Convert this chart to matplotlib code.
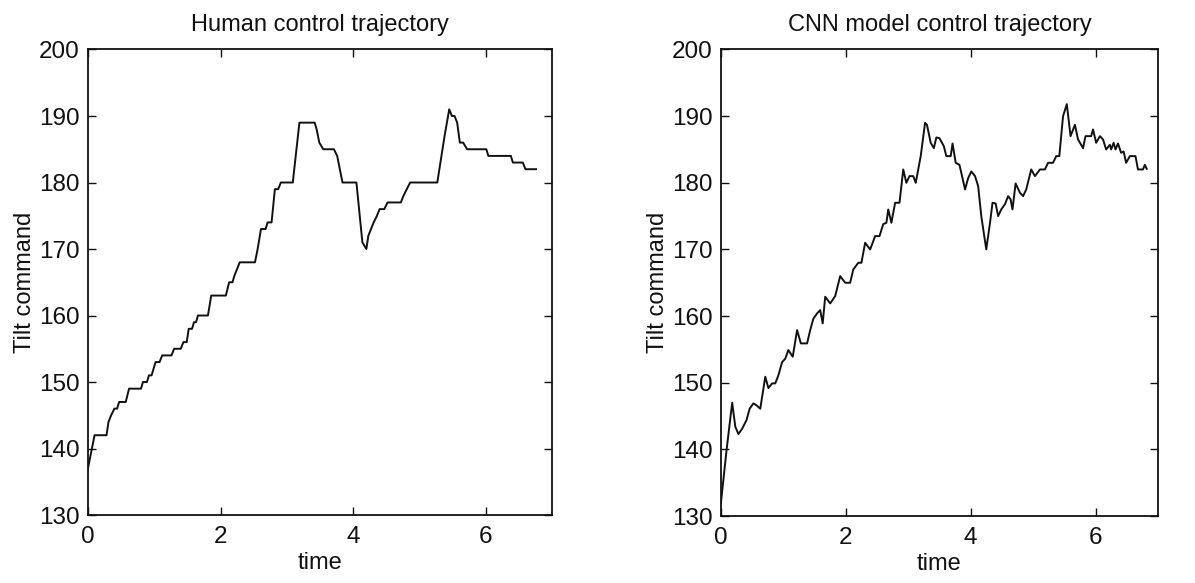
import matplotlib.pyplot as plt

plt.rcParams['font.family'] = ['Liberation Sans', 'DejaVu Sans']

# human control trajectory (time, tilt command)
human_t = [0.00, 0.10, 0.28, 0.31, 0.35, 0.40, 0.44, 0.47, 0.57, 0.62, 0.80, 0.83,
           0.89, 0.92, 0.96, 0.99, 1.02, 1.08, 1.12, 1.26, 1.30, 1.40, 1.44, 1.49,
           1.52, 1.57, 1.60, 1.63, 1.66, 1.81, 1.86, 2.08, 2.13, 2.18, 2.21, 2.25,
           2.29, 2.52, 2.56, 2.61, 2.68, 2.71, 2.77, 2.82, 2.87, 2.91, 3.09, 3.19,
           3.42, 3.45, 3.49, 3.55, 3.71, 3.76, 3.80, 3.84, 4.05, 4.10, 4.14, 4.20,
           4.23, 4.27, 4.31, 4.36, 4.40, 4.47, 4.52, 4.72, 4.76, 4.81, 4.86, 5.27,
           5.38, 5.45, 5.49, 5.53, 5.57, 5.61, 5.66, 5.72, 6.01, 6.04, 6.38, 6.41,
           6.56, 6.60, 6.76]
human_v = [137, 142, 142, 144, 145, 146, 146, 147, 147, 149, 149, 150,
           150, 151, 151, 152, 153, 153, 154, 154, 155, 155, 156, 156,
           158, 158, 159, 159, 160, 160, 163, 163, 165, 165, 166, 167,
           168, 168, 170, 173, 173, 174, 174, 179, 179, 180, 180, 189,
           189, 188, 186, 185, 185, 184, 182, 180, 180, 175, 171, 170,
           172, 173, 174, 175, 176, 176, 177, 177, 178, 179, 180, 180,
           187, 191, 190, 190, 189, 186, 186, 185, 185, 184, 184, 183,
           183, 182, 182]

# CNN model control trajectory
cnn_t = [0.00, 0.09, 0.18, 0.23, 0.28, 0.34, 0.41, 0.46, 0.52, 0.57, 0.63, 0.71,
         0.76, 0.82, 0.87, 0.92, 0.98, 1.03, 1.08, 1.15, 1.22, 1.28, 1.38, 1.43,
         1.48, 1.54, 1.59, 1.63, 1.67, 1.75, 1.83, 1.91, 1.99, 2.07, 2.12, 2.20,
         2.25, 2.31, 2.39, 2.47, 2.54, 2.60, 2.65, 2.68, 2.73, 2.79, 2.86, 2.92,
         2.97, 3.02, 3.08, 3.12, 3.20, 3.27, 3.30, 3.36, 3.41, 3.45, 3.50, 3.57,
         3.61, 3.68, 3.71, 3.76, 3.82, 3.85, 3.91, 3.96, 4.01, 4.07, 4.12, 4.17,
         4.25, 4.31, 4.35, 4.40, 4.44, 4.49, 4.55, 4.60, 4.64, 4.67, 4.72, 4.79,
         4.84, 4.89, 4.97, 5.03, 5.11, 5.19, 5.24, 5.32, 5.37, 5.42, 5.48, 5.54,
         5.60, 5.67, 5.72, 5.80, 5.84, 5.93, 5.96, 6.01, 6.07, 6.12, 6.17, 6.23,
         6.25, 6.29, 6.32, 6.36, 6.41, 6.45, 6.49, 6.55, 6.64, 6.68, 6.76, 6.79,
         6.82]
cnn_v = [132.0, 139.9, 147.0, 143.4, 142.3, 143.1, 144.4, 146.1, 146.9, 146.6, 146.1, 150.9,
         149.2, 149.9, 149.9, 151.1, 153.1, 153.6, 154.9, 153.9, 157.9, 155.9, 155.9, 157.9,
         159.6, 160.4, 160.9, 158.9, 162.9, 161.9, 163.0, 166.0, 165.0, 165.0, 167.0, 168.0,
         168.0, 171.0, 170.0, 172.0, 172.0, 173.8, 174.0, 176.0, 174.0, 177.0, 177.0, 182.0,
         180.0, 181.0, 181.0, 180.0, 184.0, 189.0, 188.7, 186.0, 185.2, 186.8, 186.7, 185.5,
         184.0, 184.0, 185.9, 183.0, 182.7, 181.5, 179.0, 180.7, 181.7, 181.0, 179.5, 175.0,
         170.0, 174.0, 177.0, 176.9, 175.0, 176.0, 176.8, 178.0, 177.5, 176.0, 179.9, 178.5,
         178.0, 179.0, 182.0, 181.0, 182.0, 182.0, 183.0, 183.0, 184.0, 184.0, 190.0, 191.8,
         187.0, 188.7, 186.5, 185.2, 187.0, 187.0, 188.0, 186.0, 187.0, 186.5, 185.0, 185.7,
         185.0, 186.0, 185.0, 185.9, 184.5, 184.7, 183.0, 184.0, 184.0, 182.0, 182.0, 182.7,
         182.1]

titles = ['Human control trajectory', 'CNN model control trajectory']
x_ticks = [0, 2, 4, 6]
y_ticks = [130, 140, 150, 160, 170, 180, 190, 200]

fig = plt.figure(figsize=(11.95, 5.83), dpi=100)
ax1 = fig.add_axes([0.0736, 0.1166, 0.3883, 0.7985])
ax2 = fig.add_axes([0.6033, 0.1149, 0.3657, 0.8002])

for ax, t, v, title in [(ax1, human_t, human_v, titles[0]),
                        (ax2, cnn_t, cnn_v, titles[1])]:
    ax.plot(t, v, color='#111111', linewidth=1.4)
    ax.set_xlim(0, 7)
    ax.set_ylim(130, 200)
    ax.set_xticks(x_ticks)
    ax.set_yticks(y_ticks)
    ax.tick_params(direction='in', length=6, width=1.0, top=True, right=True,
                   labelsize=17.5, colors='#111111', pad=6)
    ax.tick_params(axis='x', pad=8)
    for spine in ax.spines.values():
        spine.set_linewidth(1.3)
        spine.set_color('#111111')
    ax.set_title(title, fontsize=17, pad=13, color='#111111')
    ax.set_xlabel('time', fontsize=17, labelpad=3, color='#111111')
    ax.set_ylabel('Tilt command', fontsize=17, labelpad=2, color='#111111')

fig.savefig('out.png', dpi=100)
